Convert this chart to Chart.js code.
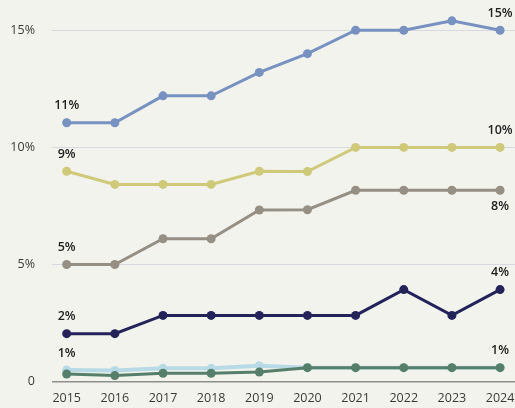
<!DOCTYPE html>
<html>
<head>
<meta charset="utf-8">
<script src="https://cdn.jsdelivr.net/npm/chart.js@4/dist/chart.umd.min.js"></script>
<style>
  html, body { margin: 0; padding: 0; background: #f3f3ee; }
  #wrap { width: 515px; height: 408px; position: relative; }
</style>
</head>
<body>
<div id="wrap"><canvas id="chart"></canvas></div>
<script>
// Years on the horizontal axis
const years = [2015, 2016, 2017, 2018, 2019, 2020, 2021, 2022, 2023, 2024];
// Percentage tick values on the vertical axis
const yTicks = [0, 5, 10, 15];

// Series values (percent)
const seriesBlue   = [11.05, 11.05, 12.2, 12.2, 13.2, 14.0, 15.0, 15.0, 15.4, 15.0];
const seriesYellow = [8.98, 8.42, 8.42, 8.42, 8.98, 8.97, 10.0, 10.0, 10.0, 10.0];
const seriesGrey   = [5.0, 5.0, 6.1, 6.1, 7.33, 7.34, 8.17, 8.17, 8.17, 8.17];
const seriesNavy   = [2.05, 2.05, 2.83, 2.83, 2.83, 2.83, 2.83, 3.93, 2.83, 3.93];
const seriesSky    = [0.5, 0.48, 0.57, 0.57, 0.68, 0.6, 0.6, 0.6, 0.6, 0.6];
const seriesGreen  = [0.33, 0.26, 0.36, 0.36, 0.41, 0.6, 0.6, 0.6, 0.6, 0.6];

const toPoints = arr => arr.map((v, i) => ({ x: years[i], y: v }));

function line(data, color, width, radius, order, labelPos) {
  return {
    data: toPoints(data),
    borderColor: color,
    backgroundColor: color,
    pointBackgroundColor: color,
    pointBorderColor: color,
    borderWidth: width,
    pointRadius: radius,
    pointHoverRadius: radius,
    pointBorderWidth: 0,
    tension: 0,
    clip: false,
    order: order,
    endLabels: labelPos
  };
}

// Writes the first and last value of a series next to its end points
const endLabelPlugin = {
  id: 'endLabels',
  afterDatasetsDraw(chart) {
    const ctx = chart.ctx;
    ctx.save();
    ctx.font = '600 12.5px "Open Sans"';
    ctx.fillStyle = '#222222';
    ctx.textAlign = 'center';
    ctx.textBaseline = 'middle';
    chart.data.datasets.forEach((ds, di) => {
      if (!ds.endLabels) return;
      const meta = chart.getDatasetMeta(di);
      const last = ds.data.length - 1;
      [[0, ds.endLabels[0]], [last, ds.endLabels[1]]].forEach(([idx, pos]) => {
        const pt = meta.data[idx];
        const txt = Math.round(ds.data[idx].y) + '%';
        const dy = pos === 'below' ? 16 : -17;
        ctx.fillText(txt, pt.x, pt.y + dy);
      });
    });
    ctx.restore();
  }
};

new Chart(document.getElementById('chart'), {
  type: 'line',
  data: {
    datasets: [
      line(seriesGreen, '#557f6a', 3, 4.5, 0, null),
      line(seriesSky, '#b8dae6', 4, 4.5, 1, ['above', 'above']),
      line(seriesNavy, '#23235a', 3, 4.5, 2, ['above', 'above']),
      line(seriesGrey, '#958f84', 3, 4.5, 3, ['above', 'below']),
      line(seriesYellow, '#cfc97a', 3, 4.5, 4, ['above', 'above']),
      line(seriesBlue, '#7791c0', 3, 4.5, 5, ['above', 'above'])
    ]
  },
  options: {
    responsive: true,
    maintainAspectRatio: false,
    animation: false,
    layout: { padding: 0, autoPadding: false },
    plugins: {
      legend: { display: false },
      tooltip: { enabled: false }
    },
    scales: {
      x: {
        type: 'linear',
        min: 2014.695,
        max: 2024.31,
        afterBuildTicks: axis => { axis.ticks = years.map(v => ({ value: v })); },
        afterFit: axis => {
          axis.height = 26.3;
          axis.paddingLeft = 0;
          axis.paddingRight = 0;
        },
        grid: { display: false, drawTicks: false },
        border: { display: false },
        ticks: {
          padding: 9,
          color: '#3a3a3a',
          font: { family: '"Open Sans"', size: 12.5 },
          maxRotation: 0,
          autoSkip: false,
          callback: v => String(v)
        }
      },
      y: {
        min: 0,
        max: 16.29,
        afterBuildTicks: axis => { axis.ticks = yTicks.map(v => ({ value: v })); },
        afterFit: axis => {
          axis.width = 52;
          axis.paddingTop = 0;
          axis.paddingBottom = 0;
        },
        grid: {
          drawTicks: false,
          color: c => c.tick && c.tick.value === 0 ? '#8e8e8e' : '#d8d9e0',
          lineWidth: c => c.tick && c.tick.value === 0 ? 1.5 : 1
        },
        border: { display: false },
        ticks: {
          padding: 17,
          color: '#3a3a3a',
          font: { family: '"Open Sans"', size: 12.5 },
          callback: v => v === 0 ? '0' : v + '%'
        }
      }
    }
  },
  plugins: [endLabelPlugin]
});
</script>
</body>
</html>
